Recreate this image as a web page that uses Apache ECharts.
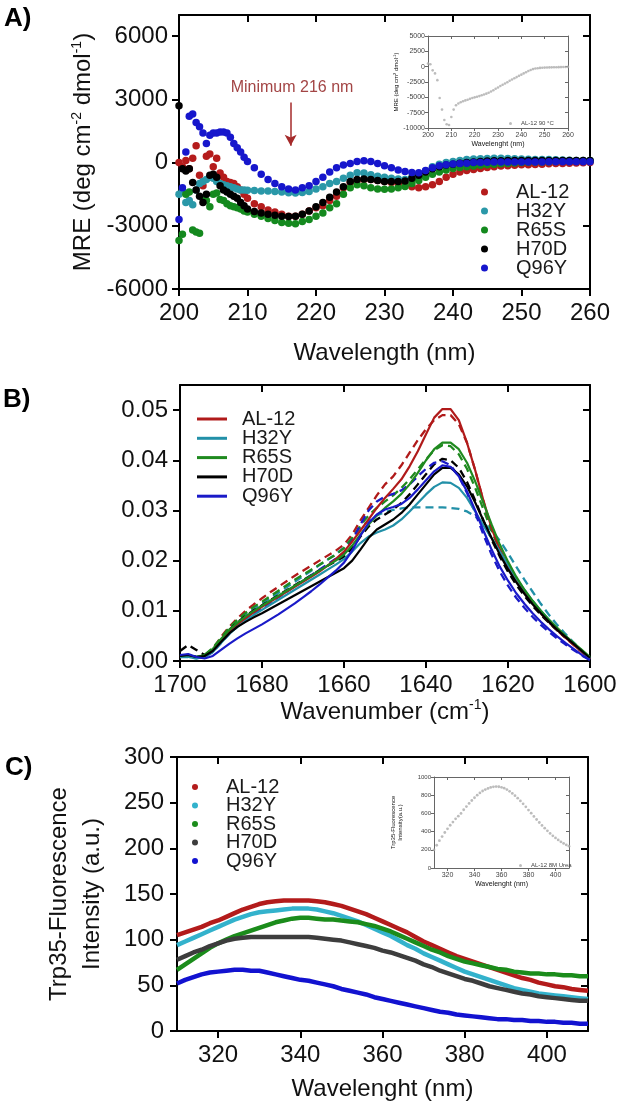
<!DOCTYPE html>
<html><head><meta charset="utf-8">
<script src="https://cdn.jsdelivr.net/npm/echarts@6/dist/echarts.min.js"></script>
<style>html,body{margin:0;padding:0;background:#fff}#c{width:620px;height:1108px}</style>
</head><body><div id="c"></div>
<script>
// ---------------- DATA ----------------
const variants = ['AL-12','H32Y','R65S','H70D','Q96Y'];

// Panel A: far-UV CD (MRE)
const cdWavelength = [200,200.5,201,201.5,202,202.5,203,203.5,204,204.5,205,205.5,206,206.5,207,207.5,208,208.5,209,209.5,210,
 211,212,213,214,215,216,217,218,219,220,221,222,223,224,225,226,227,228,229,230,231,232,233,234,235,236,237,238,239,240,
 241,242,243,244,245,246,247,248,249,250,251,252,253,254,255,256,257,258,259,260];
const cdAL12 = [0,-200,100,-300,200,800,-600,-1100,300,400,-200,200,-500,-700,-900,-950,-1000,-1150,-1300,-1500,-1700,
 -1950,-2100,-2250,-2350,-2450,-2550,-2550,-2450,-2300,-2150,-2050,-1800,-1600,-1200,-950,-850,-800,-800,-850,-900,
 -950,-1000,-1050,-1150,-1200,-1150,-1050,-900,-700,-550,-450,-380,-330,-280,-230,-200,-170,-150,-130,-110,
 -100,-90,-80,-60,-50,-40,-30,-20,-10,0];
const cdH32Y = [-1500,-1300,-1900,-1800,-2000,-1300,-1000,-900,-800,-700,-750,-900,-1000,-1050,-1100,-1150,-1200,-1250,-1300,-1300,-1320,
 -1330,-1350,-1350,-1380,-1400,-1430,-1450,-1420,-1380,-1250,-1150,-1000,-900,-750,-600,-480,-500,-580,-650,-700,
 -750,-780,-800,-700,-550,-400,-200,-80,0,50,100,150,170,180,190,200,200,190,180,170,
 160,150,150,140,130,120,110,100,100,100];
const cdR65S = [-3700,-3400,-1500,-1400,-3200,-3300,-3350,-1700,-1800,-2100,-1500,-1450,-1750,-1800,-1950,-2050,-2100,-2150,-2200,-2300,-2350,
 -2450,-2550,-2650,-2750,-2850,-2880,-2900,-2800,-2700,-2550,-2400,-2150,-1950,-1500,-1200,-1050,-1100,-1200,-1250,-1270,
 -1250,-1200,-1140,-1000,-850,-700,-550,-450,-350,-280,-230,-200,-170,-130,-100,-80,-60,-40,-20,0,
 10,20,30,40,50,60,60,70,70,70];
const cdH70D = [2700,-300,-400,-300,-950,-1300,-1600,-1900,-1500,-600,-550,-700,-1100,-1300,-1400,-1500,-1600,-1700,-1900,-2050,-2200,
 -2320,-2400,-2450,-2500,-2550,-2560,-2550,-2450,-2300,-2100,-1900,-1650,-1400,-1150,-900,-800,-780,-800,-850,-900,
 -900,-900,-880,-750,-600,-450,-300,-200,-120,-80,-30,0,30,50,70,80,90,100,100,100,
 100,100,100,100,100,100,100,100,100,100];
const cdQ96Y = [-2700,-1200,500,2200,2300,1900,1700,1400,900,1300,1400,1400,1450,1450,1400,1200,900,700,500,250,50,
 -250,-550,-800,-1000,-1150,-1250,-1300,-1200,-1100,-900,-700,-450,-250,-120,-50,50,80,50,-50,-150,
 -250,-350,-420,-470,-480,-380,-250,-150,-100,-70,-50,-30,0,0,10,20,20,30,30,30,
 30,30,30,40,40,40,40,40,40,40];
const cdMinimumMark = {wavelength: 216.3, from: 2850, to: 800, label: 'Minimum 216 nm'};

// Panel A inset: AL-12 at 90 °C
const cdInsetWavelength = [200,201,202,203,204,205,206,207,208,209,210,211,212,213,214,215,216,217,218,219,220,221,222,223,224,225,226,227,228,229,230,
 231,232,233,234,235,236,237,238,239,240,241,242,243,244,245,246,247,248,249,250,251,252,253,254,255,256,257,258,259,260];
const cdInsetAL12_90C = [500,400,-600,-1100,-2200,-5100,-7000,-8700,-9400,-9500,-8200,-7000,-6300,-6000,-5800,-5650,-5500,-5400,-5250,-5100,
 -5000,-4900,-4800,-4650,-4550,-4400,-4250,-4050,-3850,-3600,-3400,-3150,-2950,-2750,-2550,-2300,-2100,-1900,-1700,-1500,
 -1300,-1100,-900,-700,-550,-400,-300,-250,-200,-170,-150,-130,-120,-110,-100,-90,-80,-70,-60,-50,-40];

// Panel B: FTIR amide I (solid and dashed traces)
const ftirWavenumber = [1700,1698,1696,1694,1692,1690,1688,1686,1684,1682,1680,1678,1676,1674,1672,1670,1668,1666,1664,1662,
 1660,1658,1656,1654,1652,1650,1648,1646,1644,1642,1640,1638,1636,1634,1632,1630,1628,1626,1624,1622,
 1620,1618,1616,1614,1612,1610,1608,1606,1604,1602,1600];
const ftirAL12Solid = [0.0008,0.0010,0.0006,0.0008,0.0020,0.0040,0.0058,0.0072,0.0085,0.0097,0.0108,0.0118,0.0128,0.0138,0.0148,0.0158,0.0168,0.0178,0.0190,0.0203,
 0.0218,0.0238,0.0260,0.0282,0.0305,0.0325,0.0343,0.0362,0.0388,0.0418,0.0452,0.0485,0.0502,0.0502,0.0480,0.0435,0.0380,0.0320,0.0265,0.0222,
 0.0190,0.0162,0.0138,0.0116,0.0096,0.0078,0.0062,0.0047,0.0032,0.0018,0.0004];
const ftirAL12Dashed = [0.0008,0.0010,0.0006,0.0010,0.0024,0.0048,0.0068,0.0085,0.0100,0.0113,0.0125,0.0137,0.0148,0.0159,0.0170,0.0180,0.0190,0.0200,0.0210,0.0220,
 0.0232,0.0252,0.0280,0.0305,0.0330,0.0352,0.0368,0.0390,0.0415,0.0440,0.0462,0.0480,0.0490,0.0490,0.0472,0.0435,0.0380,0.0318,0.0262,0.0220,
 0.0188,0.0160,0.0136,0.0115,0.0095,0.0077,0.0061,0.0046,0.0032,0.0018,0.0004];
const ftirH32YSolid = [0.0008,0.0008,0.0005,0.0008,0.0018,0.0036,0.0054,0.0068,0.0080,0.0092,0.0102,0.0112,0.0122,0.0132,0.0142,0.0152,0.0162,0.0172,0.0182,0.0192,
 0.0203,0.0218,0.0235,0.0248,0.0256,0.0262,0.0270,0.0282,0.0298,0.0315,0.0332,0.0347,0.0356,0.0355,0.0345,0.0325,0.0298,0.0270,0.0245,0.0218,
 0.0192,0.0165,0.0142,0.0120,0.0100,0.0082,0.0065,0.0050,0.0035,0.0020,0.0005];
const ftirH32YDashed = [0.0008,0.0008,0.0005,0.0009,0.0022,0.0042,0.0062,0.0078,0.0092,0.0104,0.0114,0.0125,0.0136,0.0147,0.0158,0.0169,0.0180,0.0191,0.0202,0.0213,
 0.0226,0.0245,0.0265,0.0280,0.0290,0.0297,0.0301,0.0304,0.0306,0.0306,0.0306,0.0306,0.0306,0.0305,0.0303,0.0298,0.0288,0.0275,0.0260,0.0240,
 0.0215,0.0188,0.0162,0.0138,0.0114,0.0092,0.0072,0.0054,0.0037,0.0021,0.0005];
const ftirR65SSolid = [0.0010,0.0012,0.0008,0.0012,0.0024,0.0044,0.0062,0.0076,0.0089,0.0100,0.0110,0.0120,0.0130,0.0140,0.0150,0.0160,0.0170,0.0180,0.0190,0.0200,
 0.0212,0.0230,0.0252,0.0272,0.0290,0.0305,0.0318,0.0333,0.0352,0.0375,0.0400,0.0422,0.0435,0.0435,0.0422,0.0395,0.0358,0.0315,0.0272,0.0232,
 0.0198,0.0168,0.0142,0.0120,0.0100,0.0082,0.0066,0.0050,0.0036,0.0022,0.0008];
const ftirR65SDashed = [0.0010,0.0012,0.0008,0.0012,0.0026,0.0046,0.0066,0.0082,0.0096,0.0108,0.0118,0.0129,0.0140,0.0151,0.0162,0.0172,0.0182,0.0192,0.0202,0.0212,
 0.0225,0.0245,0.0270,0.0290,0.0305,0.0318,0.0330,0.0345,0.0362,0.0382,0.0402,0.0420,0.0430,0.0428,0.0412,0.0383,0.0345,0.0302,0.0260,0.0222,
 0.0190,0.0162,0.0138,0.0116,0.0097,0.0080,0.0064,0.0049,0.0035,0.0021,0.0007];
const ftirH70DSolid = [0.0010,0.0012,0.0008,0.0010,0.0020,0.0038,0.0055,0.0068,0.0078,0.0087,0.0095,0.0104,0.0113,0.0122,0.0131,0.0140,0.0149,0.0158,0.0167,0.0176,
 0.0185,0.0200,0.0222,0.0245,0.0262,0.0272,0.0282,0.0295,0.0312,0.0332,0.0352,0.0372,0.0385,0.0385,0.0372,0.0348,0.0316,0.0280,0.0245,0.0212,
 0.0183,0.0157,0.0134,0.0113,0.0095,0.0078,0.0062,0.0048,0.0034,0.0020,0.0006];
const ftirH70DDashed = [0.0020,0.0032,0.0022,0.0012,0.0022,0.0042,0.0062,0.0077,0.0090,0.0101,0.0111,0.0121,0.0131,0.0141,0.0151,0.0161,0.0171,0.0181,0.0190,0.0199,
 0.0208,0.0225,0.0248,0.0268,0.0282,0.0292,0.0302,0.0315,0.0332,0.0352,0.0372,0.0392,0.0403,0.0400,0.0385,0.0357,0.0320,0.0280,0.0242,0.0208,
 0.0178,0.0152,0.0130,0.0110,0.0092,0.0076,0.0061,0.0047,0.0034,0.0020,0.0006];
const ftirQ96YSolid = [0.0012,0.0014,0.0008,0.0005,0.0010,0.0022,0.0034,0.0045,0.0055,0.0064,0.0073,0.0083,0.0093,0.0104,0.0115,0.0127,0.0139,0.0152,0.0166,0.0180,
 0.0196,0.0220,0.0250,0.0275,0.0292,0.0302,0.0307,0.0313,0.0325,0.0342,0.0360,0.0378,0.0390,0.0387,0.0368,0.0338,0.0300,0.0260,0.0222,0.0188,
 0.0160,0.0135,0.0114,0.0095,0.0078,0.0063,0.0049,0.0036,0.0024,0.0012,0.0002];
const ftirQ96YDashed = [0.0010,0.0012,0.0008,0.0008,0.0018,0.0036,0.0054,0.0069,0.0082,0.0094,0.0105,0.0116,0.0127,0.0138,0.0149,0.0160,0.0171,0.0182,0.0193,0.0204,
 0.0216,0.0240,0.0272,0.0300,0.0318,0.0328,0.0333,0.0340,0.0352,0.0368,0.0383,0.0395,0.0398,0.0390,0.0368,0.0335,0.0295,0.0252,0.0212,0.0178,
 0.0150,0.0126,0.0106,0.0088,0.0072,0.0058,0.0045,0.0033,0.0022,0.0011,0.0002];

// Panel C: Trp35 fluorescence
const flWavelength = [310,312,314,316,318,320,322,324,326,328,330,332,334,336,338,340,342,344,346,348,350,352,354,356,358,360,
 362,364,366,368,370,372,374,376,378,380,382,384,386,388,390,392,394,396,398,400,402,404,406,408,410];
const flAL12 = [105,108,111,114,118,121,125,129,133,136,139,141,142,143,143,143,143,142,141,139,137,134,131,128,124,120,
 116,112,108,103,98,94,90,86,82,79,76,73,70,67,64,61,58,56,53,51,49,48,46,45,44];
const flH32Y = [94,98,102,106,110,114,118,122,125,128,130,131,132,133,134,134,134,133,131,129,126,123,120,116,112,108,
 104,99,94,90,85,81,77,73,69,65,62,59,56,53,50,47,45,43,41,40,39,38,37,36,35];
const flR65S = [67,73,79,85,91,96,100,104,107,110,113,116,119,121,123,124,124,123,122,122,121,120,119,117,115,112,
 109,105,101,97,93,89,86,82,79,76,74,72,70,68,67,65,64,63,63,62,62,61,61,60,60];
const flH70D = [78,82,86,89,93,96,99,101,102,103,103,103,103,103,103,103,103,102,101,100,99,97,95,93,91,88,
 86,83,80,77,73,70,66,63,60,57,55,52,49,47,45,43,41,40,38,37,36,35,34,33,33];
const flQ96Y = [52,56,59,62,64,65,66,67,67,66,66,64,62,60,58,56,55,53,51,49,46,44,42,40,37,35,
 33,31,29,27,25,23,21,20,18,17,16,15,14,13,13,12,12,11,11,10,10,9,9,8,8];
// Panel C inset: AL-12 in 8M urea
const flInsetWavelength = flWavelength;
const flInsetAL12Urea = [200,250,300,345,390,430,470,505,540,570,600,640,675,710,742,772,800,825,846,862,875,885,892,895,893,887,
 877,862,843,820,795,767,737,705,672,637,602,567,533,500,468,438,408,380,354,330,308,288,270,254,240];

// ---------------- STYLE / BUILD ----------------
const FONT = "'Liberation Sans', Arial, Helvetica, sans-serif";
const colA = ['#b51c1c','#2a98a8','#14891e','#000000','#1616cc'];
const colB = ['#b01a1a','#2290a8','#1f8a1f','#000000','#1a1ac8'];
const colC = ['#b31b1b','#33b2cc','#1b8c1b','#3d3d3d','#1212d0'];
const pairs = (xs, ys) => xs.map((x, i) => [x, ys[i]]);
const plain = v => String(v);

const MAIN = {line:'#000', lw:2, tick:7, fs:24, color:'#111'};
const INSET = {line:'#666', lw:1, tick:3, fs:7, color:'#444'};

function nameStyle(fs, extra) {
  return Object.assign({fontFamily:FONT, fontSize:fs, color:'#111',
    rich:{n:{fontFamily:FONT, fontSize:fs, color:'#111', lineHeight:Math.round(fs*1.15)},
          s:{fontFamily:FONT, fontSize:Math.round(fs*0.6), color:'#111', verticalAlign:'top'}}}, extra||{});
}
function rng(cfg) {
  const r = {type:'value', min:cfg.min, max:cfg.max, inverse:!!cfg.inverse, splitLine:{show:false}};
  if (cfg.interval) r.interval = cfg.interval;
  if (cfg.splitNumber) r.splitNumber = cfg.splitNumber;
  return r;
}
function xPair(gi, s, cfg) {
  const b = Object.assign(rng(cfg), {gridIndex:gi, position:'bottom',
    axisLine:{onZero:false, lineStyle:{color:s.line, width:s.lw}},
    axisTick:{show:true, length:s.tick, lineStyle:{color:s.line, width:s.lw}},
    axisLabel:{fontFamily:FONT, fontSize:s.fs, color:s.color, margin:cfg.margin, showMinLabel:cfg.showMin, showMaxLabel:cfg.showMax, formatter:cfg.formatter||plain},
    name:cfg.name, nameLocation:'middle', nameGap:cfg.nameGap, nameTextStyle:nameStyle(cfg.nameSize||s.fs)});
  const t = Object.assign(rng(cfg), {gridIndex:gi, position:'top',
    axisLine:{onZero:false, lineStyle:{color:s.line, width:s.lw}},
    axisTick:{show:true, inside:true, length:s.tick, lineStyle:{color:s.line, width:s.lw}},
    axisLabel:{show:false}});
  return [b, t];
}
function yPair(gi, s, cfg) {
  const l = Object.assign(rng(cfg), {gridIndex:gi, position:'left',
    axisLine:{onZero:false, lineStyle:{color:s.line, width:s.lw}},
    axisTick:{show:true, length:s.tick, lineStyle:{color:s.line, width:s.lw}},
    axisLabel:{fontFamily:FONT, fontSize:cfg.labelSize||s.fs, color:s.color, margin:cfg.margin, showMinLabel:cfg.showMin, showMaxLabel:cfg.showMax, formatter:cfg.formatter||plain},
    name:cfg.name, nameLocation:'middle', nameGap:cfg.nameGap, nameRotate:90,
    nameTextStyle:nameStyle(cfg.nameSize||s.fs, cfg.nameLineHeight?{lineHeight:cfg.nameLineHeight}:{})});
  const r = Object.assign(rng(cfg), {gridIndex:gi, position:'right',
    axisLine:{onZero:false, lineStyle:{color:s.line, width:s.lw}},
    axisTick:{show:true, inside:true, length:s.tick, lineStyle:{color:s.line, width:s.lw}},
    axisLabel:{show:false}});
  return [l, r];
}

const grids = [
  {left:179, top:15, width:411, height:274},   // 0 A
  {left:428, top:36, width:140, height:92},    // 1 A inset
  {left:180, top:385, width:410, height:276},  // 2 B
  {left:177, top:757, width:411, height:274},  // 3 C
  {left:434, top:777, width:135, height:91}    // 4 C inset
].map(g => Object.assign(g, {containLabel:false, outerBoundsMode:'none'}));

const xAxes = [].concat(
  xPair(0, MAIN, {min:200, max:260, interval:10, margin:12, name:'Wavelength (nm)', nameGap:52}),
  xPair(1, INSET, {min:200, max:260, interval:10, margin:4, name:'Wavelenght (nm)', nameGap:13, nameSize:7}),
  xPair(2, MAIN, {min:1600, max:1700, interval:20, inverse:true, margin:12, name:'{n|Wavenumber (cm}{s|-1}{n|)}', nameGap:33}),
  xPair(3, MAIN, {min:310, max:410, splitNumber:5, margin:12, showMin:false, showMax:false, name:'Wavelenght (nm)', nameGap:46}),
  xPair(4, INSET, {min:310, max:410, splitNumber:5, margin:4, showMin:false, showMax:false, name:'Wavelenght (nm)', nameGap:13, nameSize:7})
);
const yAxes = [].concat(
  yPair(0, MAIN, {min:-6000, max:7000, interval:3000, margin:11, showMax:false, name:'{n|MRE (deg cm}{s|-2}{n| dmol}{s|-1}{n|)}', nameGap:80}),
  yPair(1, INSET, {min:-10000, max:5000, interval:2500, margin:3, name:'{n|MRE (deg cm}{s|2}{n| dmol}{s|-1}{n|)}', nameGap:28, nameSize:6}),
  yPair(2, MAIN, {min:0, max:0.055, interval:0.01, margin:12, showMax:false, formatter:v => v.toFixed(2)}),
  yPair(3, MAIN, {min:0, max:300, interval:50, margin:13, name:'Trp35-Fluorescence\nIntensity (a.u.)', nameGap:68, nameLineHeight:33}),
  yPair(4, INSET, {min:0, max:1000, interval:200, margin:3, labelSize:6, name:'Trp35-Fluorescence\nIntensity(a.u.)', nameGap:30, nameSize:6, nameLineHeight:7})
);

const series = [];
// Panel A
const cdSets = [cdAL12, cdH32Y, cdR65S, cdH70D, cdQ96Y];
cdSets.forEach((ys, i) => {
  const s = {type:'scatter', name:'A:'+variants[i], xAxisIndex:0, yAxisIndex:0, symbol:'circle', symbolSize:7.5,
    itemStyle:{color:colA[i], opacity:1}, data:pairs(cdWavelength, ys), z:2+i, silent:true};
  if (i === 0) {
    s.markLine = {silent:true, symbol:['none','arrow'], symbolSize:[9,11], animation:false,
      lineStyle:{color:'#a52a2a', width:1.5, type:'solid'}, label:{show:false},
      data:[[{coord:[cdMinimumMark.wavelength, cdMinimumMark.from]}, {coord:[cdMinimumMark.wavelength, cdMinimumMark.to]}]]};
  }
  series.push(s);
});
series.push({type:'scatter', name:'AL-12 90 °C', xAxisIndex:2, yAxisIndex:2, symbolSize:2.6, itemStyle:{color:'#ababab'},
  data:pairs(cdInsetWavelength, cdInsetAL12_90C), silent:true});
// Panel B
const ftirSolid = [ftirAL12Solid, ftirH32YSolid, ftirR65SSolid, ftirH70DSolid, ftirQ96YSolid];
const ftirDashed = [ftirAL12Dashed, ftirH32YDashed, ftirR65SDashed, ftirH70DDashed, ftirQ96YDashed];
ftirDashed.forEach((ys, i) => series.push({type:'line', name:'Bd:'+variants[i], xAxisIndex:4, yAxisIndex:4, symbol:'none', showSymbol:false,
  lineStyle:{color:colB[i], width:2.3, type:[8,5]}, itemStyle:{color:colB[i]}, data:pairs(ftirWavenumber, ys), silent:true}));
ftirSolid.forEach((ys, i) => series.push({type:'line', name:'B:'+variants[i], xAxisIndex:4, yAxisIndex:4, symbol:'none', showSymbol:false,
  lineStyle:{color:colB[i], width:2.2}, itemStyle:{color:colB[i]}, data:pairs(ftirWavenumber, ys), silent:true}));
// Panel C
const flSets = [flAL12, flH32Y, flR65S, flH70D, flQ96Y];
flSets.forEach((ys, i) => series.push({type:'line', name:'C:'+variants[i], xAxisIndex:6, yAxisIndex:6, symbol:'circle', showSymbol:false,
  lineStyle:{color:colC[i], width:4.5}, itemStyle:{color:colC[i]}, data:pairs(flWavelength, ys), silent:true}));
series.push({type:'scatter', name:'AL-12 8M Urea', xAxisIndex:8, yAxisIndex:8, symbolSize:2.8, itemStyle:{color:'#ababab'},
  data:pairs(flInsetWavelength, flInsetAL12Urea), silent:true});

const legTxt = (fs, lh, padL, color) => ({fontFamily:FONT, fontSize:fs, color:color||'#1a1a1a', lineHeight:lh, padding:[0,0,0,padL]});
const legend = [
  {data:variants.map(v => 'A:'+v), formatter:n => n.slice(2), orient:'vertical', left:476, top:177, icon:'circle',
    itemWidth:7, itemHeight:7, itemGap:-1, selectedMode:false, textStyle:legTxt(20, 19, 23)},
  {data:variants.map(v => 'B:'+v), formatter:n => n.slice(2), orient:'vertical', left:192, top:404, icon:'rect',
    itemWidth:30, itemHeight:3, itemGap:-0.7, selectedMode:false, textStyle:legTxt(20, 19.5, 10)},
  {data:variants.map(v => 'C:'+v), formatter:n => n.slice(2), orient:'vertical', left:187, top:772, icon:'circle',
    itemWidth:6, itemHeight:6, itemGap:-1.5, selectedMode:false, textStyle:legTxt(20, 18.5, 23)},
  {data:['AL-12 90 °C'], left:504, top:115, icon:'circle', itemWidth:3, itemHeight:3, selectedMode:false, textStyle:legTxt(6, 7, 4, '#444')},
  {data:['AL-12 8M Urea'], left:514, top:857, icon:'circle', itemWidth:3, itemHeight:3, selectedMode:false, textStyle:legTxt(6, 7, 4, '#444')}
];

const graphic = [
  {type:'text', left:4, top:6, style:{text:'A)', font:'bold 26px ' + FONT, fill:'#000'}},
  {type:'text', left:3, top:387, style:{text:'B)', font:'bold 26px ' + FONT, fill:'#000'}},
  {type:'text', left:5, top:755, style:{text:'C)', font:'bold 26px ' + FONT, fill:'#000'}},
  {type:'text', x:292, y:88, style:{text:cdMinimumMark.label, x:0, y:0, align:'center', verticalAlign:'middle', font:'16px ' + FONT, fill:'#a34545'}}
];

const chart = echarts.init(document.getElementById('c'), null, {renderer:'canvas'});
chart.setOption({animation:false, backgroundColor:'#fff', textStyle:{fontFamily:FONT},
  grid:grids, xAxis:xAxes, yAxis:yAxes, series:series, legend:legend, graphic:graphic});
</script></body></html>
